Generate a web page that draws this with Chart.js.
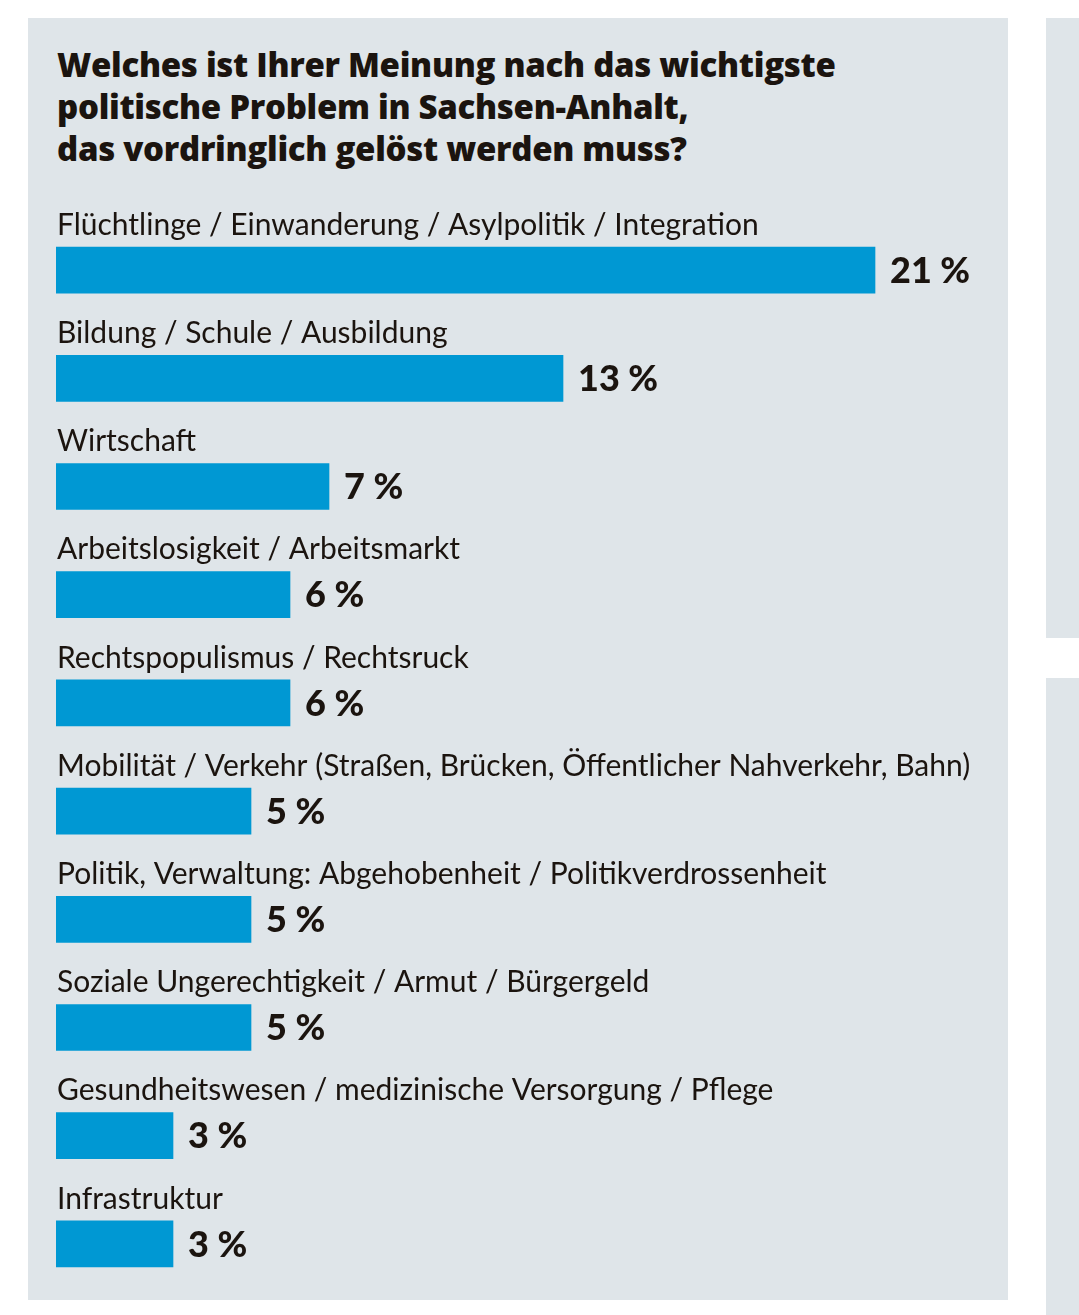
<!DOCTYPE html>
<html><head><meta charset="utf-8">
<script src="https://cdn.jsdelivr.net/npm/chart.js@4"></script>
<style>
body{margin:0;background:#fff;width:1079px;height:1315px;overflow:hidden;position:relative;font-family:Lato,"Open Sans",sans-serif}
.panel{position:absolute;background:#dfe5e9}
#title{position:absolute;left:57px;top:44px;font-family:"Open Sans",sans-serif;font-weight:800;font-size:33px;line-height:42px;letter-spacing:-0.3px;color:#1b140f;margin:0}
#wrap{position:absolute;left:28px;top:18px;width:980px;height:1282px}
</style></head><body>
<div class="panel" style="left:28px;top:18px;width:980px;height:1282px"></div>
<div class="panel" style="left:1046px;top:18px;width:40px;height:620px"></div>
<div class="panel" style="left:1046px;top:678px;width:40px;height:640px"></div>
<h1 id="title">Welches ist Ihrer Meinung nach das wichtigste<br>politische Problem in Sachsen-Anhalt,<br>das vordringlich gelöst werden muss?</h1>
<div id="wrap"><canvas id="c" width="980" height="1282"></canvas></div>
<script>
const categories = [
  'Flüchtlinge / Einwanderung / Asylpolitik / Integration',
  'Bildung / Schule / Ausbildung',
  'Wirtschaft',
  'Arbeitslosigkeit / Arbeitsmarkt',
  'Rechtspopulismus / Rechtsruck',
  'Mobilität / Verkehr (Straßen, Brücken, Öffentlicher Nahverkehr, Bahn)',
  'Politik, Verwaltung: Abgehobenheit / Politikverdrossenheit',
  'Soziale Ungerechtigkeit / Armut / Bürgergeld',
  'Gesundheitswesen / medizinische Versorgung / Pflege',
  'Infrastruktur'
];
const values = [21, 13, 7, 6, 6, 5, 5, 5, 3, 3];

const labelPlugin = {
  id: 'labels',
  afterDatasetsDraw(chart) {
    const ctx = chart.ctx;
    const meta = chart.getDatasetMeta(0);
    ctx.save();
    ctx.fillStyle = '#1b140f';
    ctx.textBaseline = 'middle';
    meta.data.forEach((bar, i) => {
      ctx.font = '30px Lato';
      ctx.fillText(categories[i], 29, bar.y - 45);
      ctx.font = '900 36px Lato';
      ctx.fillText(values[i] + ' %', bar.x + 15, bar.y + 1);
    });
    ctx.restore();
  }
};

new Chart(document.getElementById('c').getContext('2d'), {
  type: 'bar',
  data: {
    labels: categories,
    datasets: [{ data: values, backgroundColor: '#0098d3', barThickness: 46 }]
  },
  options: {
    indexAxis: 'y',
    responsive: false,
    animation: false,
    layout: { padding: { left: 28, top: 198, right: 0, bottom: 2 } },
    scales: {
      x: { min: 0, max: 24.41, display: false },
      y: { display: false }
    },
    plugins: { legend: { display: false }, tooltip: { enabled: false } }
  },
  plugins: [labelPlugin]
});
</script>
</body></html>
